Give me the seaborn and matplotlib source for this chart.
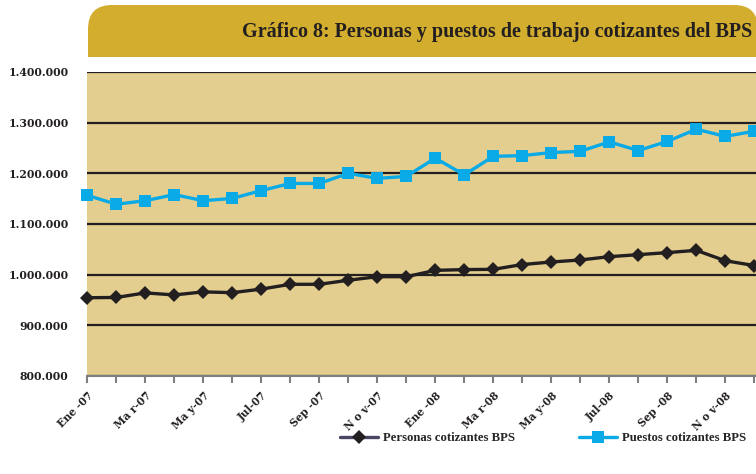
import numpy as np
import pandas as pd
import seaborn as sns
import matplotlib.pyplot as plt
from matplotlib.patches import FancyBboxPatch, Rectangle
from matplotlib.lines import Line2D
from matplotlib.transforms import IdentityTransform
from matplotlib.ticker import FuncFormatter

# Data
months = ['Ene-07', 'Feb-07', 'Mar-07', 'Abr-07', 'May-07', 'Jun-07',
          'Jul-07', 'Ago-07', 'Sep-07', 'Oct-07', 'Nov-07', 'Dic-07',
          'Ene-08', 'Feb-08', 'Mar-08', 'Abr-08', 'May-08', 'Jun-08',
          'Jul-08', 'Ago-08', 'Sep-08', 'Oct-08', 'Nov-08', 'Dic-08']
tick_labels = ['Ene -07', '', 'Ma r-07', '', 'Ma y-07', '', 'Jul-07', '',
               'Sep -07', '', 'N o v-07', '', 'Ene -08', '', 'Ma r-08', '',
               'Ma y-08', '', 'Jul-08', '', 'Sep -08', '', 'N o v-08', '']
personas = [954500, 955000, 964000, 960000, 966000, 964500, 971500, 981000,
            981000, 989000, 996000, 996000, 1008500, 1010000, 1010500, 1020000,
            1025000, 1029000, 1035500, 1039500, 1043500, 1048000, 1027500, 1018000]
puestos = [1156500, 1139000, 1146000, 1158000, 1146000, 1150500, 1166000, 1180000,
           1180000, 1200000, 1190000, 1194000, 1230000, 1197000, 1233500, 1235000,
           1241000, 1243500, 1262000, 1245000, 1263000, 1287000, 1273000, 1283000]

df = pd.DataFrame({'pos': np.arange(len(months)), 'Mes': months,
                   'Personas cotizantes BPS': personas,
                   'Puestos cotizantes BPS': puestos})

black = '#231F20'
blue = '#0AAAE6'
bg = '#E3CE8F'
gold = '#D3AE2E'

sns.set_style("white")
plt.rcParams['font.family'] = ['DejaVu Serif']

fig = plt.figure(figsize=(7.56, 4.74), dpi=100)
ax = fig.add_axes([87.3 / 756, 1 - 376 / 474, (756 - 87.3) / 756, (376 - 72) / 474])
ax.set_facecolor(bg)

sns.lineplot(data=df, x='pos', y='Puestos cotizantes BPS', ax=ax, color=blue,
             linewidth=2.4, marker='s', markersize=8.5, markeredgewidth=0,
             clip_on=False, zorder=4)
sns.lineplot(data=df, x='pos', y='Personas cotizantes BPS', ax=ax, color=black,
             linewidth=2.4, marker='D', markersize=7, markeredgewidth=0,
             clip_on=False, zorder=4)

ax.set_xlim(0, len(months) - 1 + 0.06)
ax.set_ylim(800000, 1400000)
ax.set_yticks(np.arange(800000, 1400001, 100000))
ax.yaxis.set_major_formatter(FuncFormatter(lambda v, p: f"{v:,.0f}".replace(",", ".")))
ax.grid(axis='y', color=black, linewidth=1.6)
ax.grid(axis='x', visible=False)
ax.set_axisbelow(True)
for s in ['left', 'right', 'top']:
    ax.spines[s].set_visible(False)
ax.spines['bottom'].set_color('#7F7F7F')
ax.spines['bottom'].set_linewidth(1.5)
ax.spines['bottom'].set_zorder(3)

ax.set_xticks(df['pos'])
ax.set_xticklabels(tick_labels, rotation=45, ha='right', rotation_mode='anchor',
                   fontsize=7.6, fontweight='bold', color=black)
ax.tick_params(axis='x', bottom=True, length=5, width=1.5, color='#7F7F7F', pad=5)
ax.tick_params(axis='y', left=False, pad=10, labelsize=7.8, labelcolor=black)
for t in ax.get_yticklabels():
    t.set_fontweight('bold')
ax.set_xlabel('')
ax.set_ylabel('')

# title banner (rounded top corners)
r = 24
left, right, top, bottom = 88, 758, 474 - 5, 474 - 57
fig.patches.append(FancyBboxPatch((left + r, bottom + r), right - left - 2 * r, top - bottom - 2 * r,
                                  boxstyle=f"round,pad={r}", facecolor=gold, edgecolor='none',
                                  transform=IdentityTransform(), figure=fig))
fig.patches.append(Rectangle((left, bottom), right - left, (top - bottom) / 2,
                             facecolor=gold, edgecolor='none',
                             transform=IdentityTransform(), figure=fig))
fig.text(752 / 756, 1 - 32 / 474, 'Gráfico 8: Personas y puestos de trabajo cotizantes del BPS',
         ha='right', va='center', fontsize=14.5, fontweight='bold',
         family='Liberation Serif', color=black)

handles = [Line2D([], [], color='#4B4563', linewidth=2.4, marker='D', markersize=7,
                  markerfacecolor=black, markeredgewidth=0),
           Line2D([], [], color=blue, linewidth=2.4, marker='s', markersize=8.5,
                  markeredgewidth=0)]
fig.legend(handles, ['Personas cotizantes BPS', 'Puestos cotizantes BPS'],
           loc='center', bbox_to_anchor=(543 / 756, 1 - 438 / 474), ncol=2,
           frameon=False, handlelength=3, columnspacing=5.0, handletextpad=0.4,
           prop={'family': 'Liberation Serif', 'weight': 'bold', 'size': 9.2})

fig.savefig('out.png', dpi=100)
